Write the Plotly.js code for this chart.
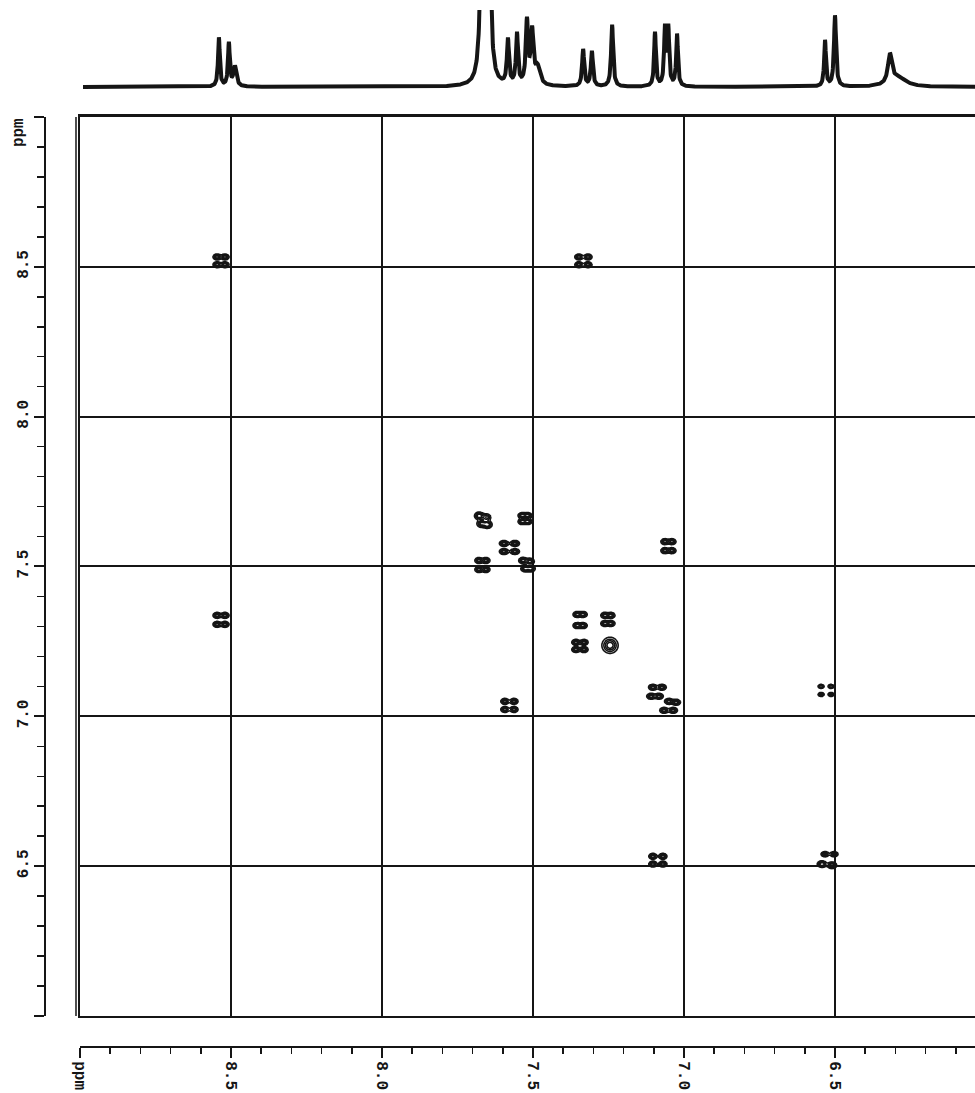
<!DOCTYPE html>
<html>
<head>
<meta charset="utf-8">
<script src="https://cdn.plot.ly/plotly-3.0.1.min.js"></script>
<style>
  html, body { margin: 0; padding: 0; background: #fff; }
  #plot { width: 975px; height: 1093px; }
</style>
</head>
<body>
<div id="plot"></div>
<script>
// ---- 1D proton projection: line positions (ppm), heights above baseline, half-widths (ppm)
const peakPpm = [8.540, 8.507, 8.487, 7.669, 7.646, 7.583, 7.553, 7.520, 7.503, 7.485,
                 7.334, 7.305, 7.238, 7.096, 7.063, 7.052, 7.023, 6.533, 6.500, 6.318, 6.290];
const peakHeight = [49, 43, 20, 160, 160, 45, 51, 63, 52, 18,
                    37, 35, 62, 54, 57, 57, 52, 46, 71, 29, 9];
const peakHalfWidth = [0.0035, 0.0035, 0.006, 0.007, 0.007, 0.004, 0.004, 0.0045, 0.005, 0.010,
                       0.004, 0.004, 0.004, 0.0035, 0.0035, 0.0035, 0.0035, 0.0035, 0.004, 0.008, 0.030];

// ---- 2D COSY contour components: centres (ppm), relative amplitude, Gaussian widths (ppm)
const blobX = [
  8.546, 8.520, 8.546, 8.520,   // 8.53 diagonal
  7.348, 7.318, 7.348, 7.318,   // 8.53 / 7.33 cross
  8.546, 8.520, 8.546, 8.520,   // 7.33 / 8.53 cross
  7.678, 7.654, 7.671, 7.651,   // 7.66 diagonal
  7.536, 7.517, 7.536, 7.517,   // 7.52 / 7.66
  7.596, 7.560, 7.596, 7.560,   // 7.57 diagonal
  7.679, 7.656, 7.679, 7.656,   // 7.66 / 7.51
  7.533, 7.510, 7.526, 7.507,   // 7.51 diagonal
  7.063, 7.040, 7.063, 7.040,   // 7.05 / 7.57
  7.354, 7.334, 7.354, 7.334,   // 7.33 diagonal
  7.262, 7.242, 7.262, 7.242,   // 7.24 / 7.33
  7.358, 7.331, 7.358, 7.331,   // 7.33 / 7.24
  7.245,                        // 7.24 diagonal
  7.593, 7.563, 7.593, 7.563,   // 7.57 / 7.03
  7.103, 7.073, 7.109, 7.083, 7.050, 7.026, 7.066, 7.036,   // 7.0-7.1 diagonal group
  6.546, 6.513, 6.546, 6.513,   // 6.52 / 7.09
  7.103, 7.070, 7.103, 7.070,   // 7.09 / 6.52
  6.533, 6.503, 6.543, 6.510    // 6.52 diagonal
];
const blobY = [
  8.533, 8.533, 8.507, 8.507,
  8.533, 8.533, 8.507, 8.507,
  7.337, 7.337, 7.307, 7.307,
  7.669, 7.664, 7.643, 7.640,
  7.670, 7.670, 7.650, 7.650,
  7.577, 7.577, 7.550, 7.550,
  7.520, 7.520, 7.490, 7.490,
  7.520, 7.517, 7.493, 7.493,
  7.583, 7.583, 7.553, 7.553,
  7.340, 7.340, 7.303, 7.303,
  7.337, 7.337, 7.310, 7.310,
  7.247, 7.247, 7.223, 7.223,
  7.237,
  7.050, 7.050, 7.023, 7.023,
  7.097, 7.097, 7.067, 7.067, 7.050, 7.047, 7.020, 7.020,
  7.100, 7.100, 7.073, 7.073,
  6.533, 6.533, 6.507, 6.507,
  6.540, 6.540, 6.507, 6.503
];
const blobAmp = [
  1, 1, 1, 1,  1, 1, 1, 1,  1, 1, 1, 1,  1.1, 0.8, 0.9, 1.1,
  1, 1, 1, 1,  1, 1, 1, 1,  1, 1, 1, 1,  1, 1, 1, 1,
  1, 1, 1, 1,  1, 1, 1, 1,  1, 1, 1, 1,  1, 1, 1, 1,
  1,
  1, 1, 1, 1,
  1, 1, 1, 1, 1, 1, 1, 1,
  0.8, 0.8, 0.8, 0.8,
  1, 1, 1, 1,
  0.9, 0.9, 1.1, 1.1
];
const blobSx = [
  0.0075, 0.0075, 0.0075, 0.0075,  0.0075, 0.0075, 0.0075, 0.0075,  0.0075, 0.0075, 0.0075, 0.0075,
  0.0085, 0.0085, 0.0085, 0.0085,  0.0075, 0.0075, 0.0075, 0.0075,  0.0085, 0.0085, 0.0085, 0.0085,
  0.0075, 0.0075, 0.0075, 0.0075,  0.0080, 0.0080, 0.0080, 0.0080,  0.0075, 0.0075, 0.0075, 0.0075,
  0.0075, 0.0075, 0.0075, 0.0075,  0.0075, 0.0075, 0.0075, 0.0075,  0.0075, 0.0075, 0.0075, 0.0075,
  0.0150,
  0.0075, 0.0075, 0.0075, 0.0075,
  0.0080, 0.0080, 0.0080, 0.0080, 0.0080, 0.0080, 0.0080, 0.0080,
  0.0060, 0.0060, 0.0060, 0.0060,
  0.0075, 0.0075, 0.0075, 0.0075,
  0.0075, 0.0075, 0.0085, 0.0085
];
const blobSy = [
  0.0055, 0.0055, 0.0055, 0.0055,  0.0055, 0.0055, 0.0055, 0.0055,  0.0055, 0.0055, 0.0055, 0.0055,
  0.0070, 0.0070, 0.0070, 0.0070,  0.0055, 0.0055, 0.0055, 0.0055,  0.0055, 0.0055, 0.0055, 0.0055,
  0.0055, 0.0055, 0.0055, 0.0055,  0.0060, 0.0060, 0.0060, 0.0060,  0.0055, 0.0055, 0.0055, 0.0055,
  0.0055, 0.0055, 0.0055, 0.0055,  0.0055, 0.0055, 0.0055, 0.0055,  0.0055, 0.0055, 0.0055, 0.0055,
  0.0150,
  0.0055, 0.0055, 0.0055, 0.0055,
  0.0055, 0.0055, 0.0055, 0.0055, 0.0055, 0.0055, 0.0055, 0.0055,
  0.0040, 0.0040, 0.0040, 0.0040,
  0.0055, 0.0055, 0.0055, 0.0055,
  0.0050, 0.0050, 0.0060, 0.0060
];

// ---- axis ticks
const majorTicks = [9.0, 8.5, 8.0, 7.5, 7.0, 6.5, 6.0];
const bottomTickText = ['ppm', '8.5', '8.0', '7.5', '7.0', '6.5', ''];
const leftTickText = ['', '8.5', '8.0', '7.5', '7.0', '6.5', ''];

// ---- build the 1D trace from the line list (Lorentzian lines)
const specX = [], specY = [];
for (let n = 0; n <= 2955; n++) {
  const v = 8.99 - n * 0.001;
  let s = 0;
  for (let k = 0; k < peakPpm.length; k++) {
    const d = (v - peakPpm[k]) / peakHalfWidth[k];
    s += peakHeight[k] / (1 + d * d);
  }
  specX.push(+v.toFixed(4));
  specY.push(s);
}

// ---- build the 2D intensity grid from the contour components
const step = 0.0025, g0 = 6.38, g1 = 8.62;
const nG = Math.round((g1 - g0) / step) + 1;
const gx = [], gy = [];
for (let i = 0; i < nG; i++) { gx.push(+(g0 + i * step).toFixed(5)); gy.push(+(g0 + i * step).toFixed(5)); }
const z = [];
for (let j = 0; j < nG; j++) z.push(new Float64Array(nG));
for (let k = 0; k < blobX.length; k++) {
  const bx = blobX[k], by = blobY[k], sx = blobSx[k], sy = blobSy[k], a = blobAmp[k];
  const i0 = Math.max(0, Math.floor((bx - 5 * sx - g0) / step));
  const i1 = Math.min(nG - 1, Math.ceil((bx + 5 * sx - g0) / step));
  const j0 = Math.max(0, Math.floor((by - 5 * sy - g0) / step));
  const j1 = Math.min(nG - 1, Math.ceil((by + 5 * sy - g0) / step));
  for (let j = j0; j <= j1; j++) {
    const dy = (gy[j] - by) / sy;
    for (let i = i0; i <= i1; i++) {
      const dx = (gx[i] - bx) / sx;
      z[j][i] += a * Math.exp(-0.5 * (dx * dx + dy * dy));
    }
  }
}
const zArr = z.map(r => Array.from(r));

const INK = '#151515';
const X_DOMAIN = [0.04278, 1];
const X_RANGE = [9.0, 6.0364];
const LABEL_FONT = { family: 'Liberation Mono, DejaVu Sans Mono, monospace', size: 16, color: INK, weight: 'bold' };

const traces = [
  {
    type: 'contour', x: gx, y: gy, z: zArr, xaxis: 'x', yaxis: 'y',
    contours: { coloring: 'lines', start: 0.2, end: 0.8, size: 0.2 },
    colorscale: [[0, INK], [1, INK]],
    line: { width: 1.6 },
    showscale: false, hoverinfo: 'skip'
  },
  {
    type: 'scatter', mode: 'lines', x: specX, y: specY, xaxis: 'x2', yaxis: 'y2',
    line: { color: INK, width: 4 }, hoverinfo: 'skip'
  },
  { type: 'scatter', mode: 'markers', x: [], y: [], xaxis: 'x3', yaxis: 'y', hoverinfo: 'skip' },
  { type: 'scatter', mode: 'markers', x: [], y: [], xaxis: 'x', yaxis: 'y3', hoverinfo: 'skip' }
];

const layout = {
  width: 975, height: 1093,
  margin: { l: 40, r: 0, t: 0, b: 40 },
  paper_bgcolor: '#ffffff', plot_bgcolor: 'rgba(0,0,0,0)',
  showlegend: false,
  font: LABEL_FONT,
  xaxis: {
    domain: X_DOMAIN, range: X_RANGE, anchor: 'y',
    tickmode: 'linear', tick0: 0, dtick: 0.5, ticks: '', showticklabels: false,
    showgrid: true, gridcolor: INK, gridwidth: 2, zeroline: false,
    showline: true, linecolor: INK, linewidth: 2.5, mirror: true
  },
  yaxis: {
    domain: [0.035138, 0.888889], range: [6.0, 9.0], anchor: 'x',
    tickmode: 'linear', tick0: 0, dtick: 0.5, ticks: '', showticklabels: false,
    showgrid: true, gridcolor: INK, gridwidth: 2, zeroline: false,
    showline: true, linecolor: INK, linewidth: 2
  },
  xaxis2: { domain: X_DOMAIN, range: X_RANGE, anchor: 'y2', visible: false },
  yaxis2: { domain: [0.909782, 0.990503], range: [-8, 77], anchor: 'x2', visible: false },
  xaxis3: {
    overlaying: 'x', anchor: 'free', position: 0.005698, side: 'bottom',
    range: X_RANGE, tickmode: 'array', tickvals: majorTicks, ticktext: bottomTickText,
    ticks: 'outside', ticklen: 10, tickwidth: 2, tickcolor: INK, tickangle: 90,
    showline: true, linecolor: INK, linewidth: 2, showgrid: false, zeroline: false,
    tickfont: LABEL_FONT,
    minor: { tickmode: 'linear', tick0: 0, dtick: 0.1, ticks: 'outside', ticklen: 6, tickwidth: 1.5, tickcolor: INK, showgrid: false }
  },
  yaxis3: {
    overlaying: 'y', anchor: 'free', position: 0.005348, side: 'left',
    range: [6.0, 9.0], tickmode: 'array', tickvals: majorTicks, ticktext: leftTickText,
    ticks: 'outside', ticklen: 10, tickwidth: 2, tickcolor: INK, tickangle: -90,
    showline: true, linecolor: INK, linewidth: 2, showgrid: false, zeroline: false,
    tickfont: LABEL_FONT,
    minor: { tickmode: 'linear', tick0: 0, dtick: 0.1, ticks: 'outside', ticklen: 7, tickwidth: 1.5, tickcolor: INK, showgrid: false }
  },
  shapes: [
    // inner rule of the double left frame line
    { type: 'line', xref: 'paper', yref: 'paper', x0: 0.0385, x1: 0.0385, y0: 0.035138, y1: 0.888889,
      line: { color: INK, width: 1.5 } }
  ],
  annotations: [
    { xref: 'paper', yref: 'paper', x: -0.0225, y: 0.8745, text: 'ppm', textangle: -90,
      showarrow: false, xanchor: 'center', yanchor: 'middle', font: LABEL_FONT }
  ]
};

Plotly.newPlot('plot', traces, layout, { staticPlot: true, displayModeBar: false });
</script>
</body>
</html>
